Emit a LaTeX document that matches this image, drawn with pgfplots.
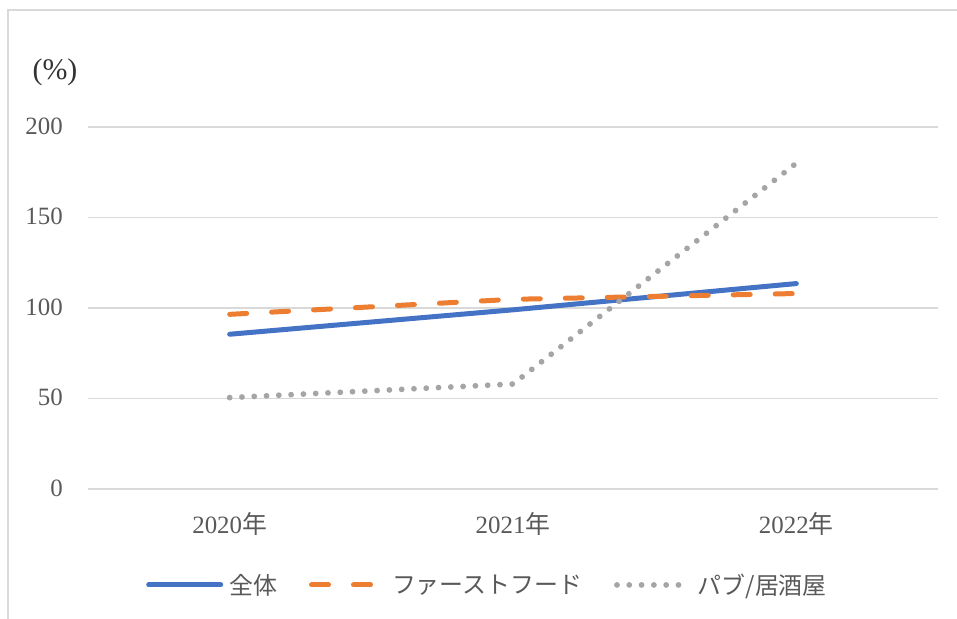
\documentclass[border=0pt]{standalone}
\usepackage{fontspec}
\setmainfont{Liberation Serif}
\newfontfamily\cjk{Noto Sans CJK JP}
\usepackage{pgfplots}
\pgfplotsset{compat=1.18}
\definecolor{cblue}{HTML}{4472C4}
\definecolor{corange}{HTML}{ED7D31}
\definecolor{cgray}{HTML}{A5A5A5}
\definecolor{gridc}{HTML}{D9D9D9}
\definecolor{txt}{HTML}{595959}
\begin{document}
\begin{tikzpicture}
\path[use as bounding box] (0,0) rectangle (957bp,-619bp);
\draw[gridc, line width=1.5bp] (8bp,-630bp) -- (8bp,-10bp) -- (970bp,-10bp);
\node[text=black!80, font=\fontsize{30}{34}\selectfont] at (55bp,-72bp) {(\%)};
\begin{axis}[
  at={(88bp,-489bp)}, anchor=south west,
  scale only axis, width=850bp, height=362bp,
  xmin=-0.5, xmax=2.5, ymin=0, ymax=200,
  xtick={0,1,2},
  xticklabels={2020{\cjk 年},2021{\cjk 年},2022{\cjk 年}},
  ytick={0,50,100,150,200},
  ymajorgrids, grid style={gridc, line width=1.5bp},
  axis line style={draw=none}, major tick length=0pt,
  tick label style={text=txt, font=\fontsize{25}{29}\selectfont, inner sep=0pt},
  /pgf/number format/assume math mode=true,
  yticklabel style={anchor=base east, xshift=-25bp, yshift=-7bp},
  xticklabel style={anchor=base, yshift=-44bp},
  clip=false,
  legend style={at={(0.470,-0.265)}, anchor=center, draw=none, fill=none,
    legend columns=3, text=txt, font=\fontsize{24}{28}\selectfont,
    /tikz/every even column/.append style={column sep=30bp},
    /tikz/every odd column/.append style={column sep=4bp}},
  legend image code/.code={\draw[#1] (0bp,0bp) -- (72bp,0bp);},
]
\addplot[cblue, line width=5bp, line cap=round] coordinates {(0,85.5)(1,99)(2,113.5)};
\addlegendentry{{\cjk 全体}}
\addplot[corange, line width=5bp, line cap=round, dash pattern=on 17bp off 25bp] coordinates {(0,96.5)(1,104.8)(2,108)};
\addlegendentry{{\cjk ファーストフード}}
\addplot[cgray, line width=5.8bp, line cap=round, dash pattern=on 0bp off 12.3bp] coordinates {(0,50.5)(1,58)(2,180)};
\addlegendentry{{\cjk パブ/居酒屋}}
\end{axis}
\end{tikzpicture}
\end{document}
